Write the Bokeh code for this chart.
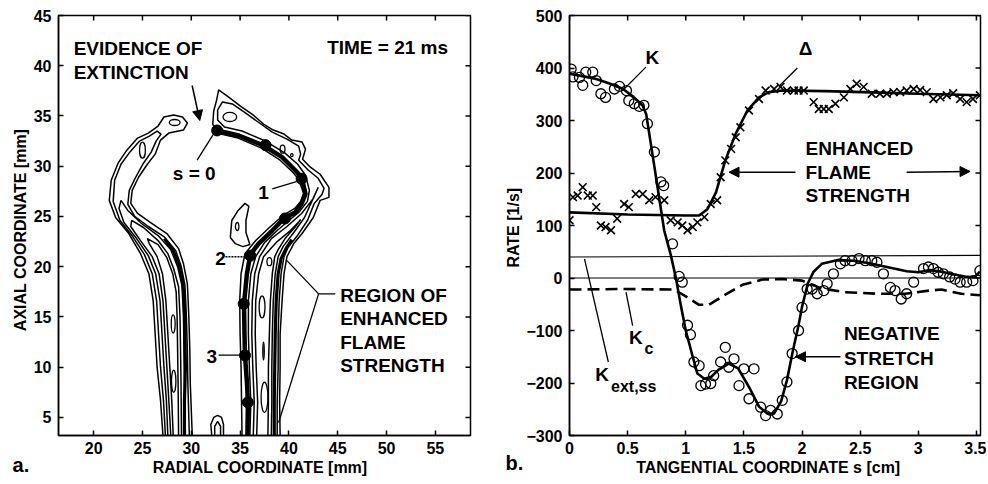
from bokeh.plotting import figure
from bokeh.models import (Range1d, FixedTicker, Arrow, NormalHead,
                          ColumnDataSource, CustomJSTickFormatter)
from bokeh.layouts import row
from bokeh.core.properties import value
from bokeh.embed import file_html
from bokeh.resources import INLINE

FONT = "Liberation Sans"

# ---------------- Panel a data (contours of the flame, mm) ----------------
L1_x = [27.1, 26.85, 26.5, 26.3, 26.1, 25.66, 24.8, 23.6, 22.25, 21.6, 21.8, 22.5, 23.4, 24.5, 25.6, 26.6, 27.2, 28.2, 29.1, 29.6, 29.2, 27.7, 26.85, 26.3, 25.5, 24.6, 23.95, 23.8, 24.5, 25.8, 27.5, 28.7, 29.2, 29.6, 29.75, 29.85, 29.9, 30.1]
L1_y = [3.2, 6.7, 10.0, 13.3, 16.6, 19.3, 21.3, 23.3, 24.9, 26.6, 28.6, 30.3, 31.6, 32.8, 33.3, 34.0, 34.9, 35.1, 34.9, 34.3, 33.6, 33.3, 32.6, 31.2, 30.2, 28.9, 27.6, 26.3, 25.3, 24.4, 23.3, 21.8, 20.3, 18.3, 15.0, 11.7, 8.35, 3.2]
L2_x = [27.35, 27.15, 26.85, 26.65, 26.45, 26.0, 25.2, 24.0, 22.7, 22.0, 22.15, 22.8, 23.7, 24.7, 25.7, 26.5, 26.9, 26.4, 25.9, 25.1, 24.3, 23.65, 23.5, 24.2, 25.6, 27.2, 28.4, 28.95, 29.35, 29.5, 29.6, 29.65, 29.8]
L2_y = [3.2, 6.7, 10.0, 13.3, 16.6, 19.3, 21.2, 23.0, 24.6, 26.5, 28.6, 30.2, 31.4, 32.5, 33.0, 33.5, 33.2, 32.5, 31.4, 30.3, 28.9, 27.6, 26.2, 25.0, 24.0, 23.0, 21.6, 20.1, 18.2, 15.0, 11.7, 8.35, 3.2]
L3_x = [27.6, 27.45, 27.2, 27.0, 26.8, 26.35, 25.6, 24.4, 23.1, 22.6, 22.8, 23.5, 24.9, 26.6, 27.9, 28.6, 29.05, 29.2, 29.25, 29.3, 29.4]
L3_y = [3.2, 6.7, 10.0, 13.3, 16.6, 19.3, 21.1, 22.8, 24.4, 25.8, 26.6, 25.6, 24.3, 23.1, 21.7, 20.0, 18.1, 15.0, 11.7, 8.35, 3.2]
L4_x = [27.9, 27.7, 27.5, 27.3, 27.1, 26.7, 26.0, 24.8, 23.8, 23.9, 25.1, 26.6, 27.6, 28.2, 28.7, 28.85, 28.9, 28.95, 29.0]
L4_y = [3.2, 6.7, 10.0, 13.3, 16.6, 19.3, 21.0, 22.6, 24.0, 24.6, 23.9, 22.6, 21.3, 19.8, 18.0, 15.0, 11.7, 8.35, 3.2]
L5_x = [28.15, 28.0, 27.8, 27.6, 27.4, 27.05, 26.5, 25.7, 25.5, 26.6, 27.5, 28.1, 28.45, 28.55, 28.6, 28.65, 28.7]
L5_y = [3.2, 6.7, 10.0, 13.3, 16.6, 19.3, 21.0, 22.3, 22.8, 22.2, 20.9, 19.3, 17.5, 15.0, 11.7, 8.35, 3.2]

R1_x = [35.2, 35.15, 35.1, 35.0, 34.96, 35.1, 35.5, 36.6, 38.0, 39.4, 40.6, 41.2, 41.5, 41.0, 40.4, 39.1, 37.2, 34.8, 32.6, 32.2, 32.3, 32.6, 32.8, 33.8, 35.0, 36.4, 37.4, 38.4, 39.5, 40.3, 41.35, 41.7, 41.4, 42.2, 43.2, 44.1, 44.1, 43.2, 42.5, 41.35, 40.5, 39.8, 39.5, 39.3, 39.1, 39.1, 39.05, 39.1]
R1_y = [3.2, 6.5, 10.0, 13.3, 16.6, 19.3, 21.3, 22.6, 23.9, 25.1, 25.8, 26.5, 27.3, 28.7, 29.4, 30.6, 31.8, 32.8, 33.3, 34.2, 35.5, 36.6, 37.6, 36.9, 36.0, 35.05, 34.2, 33.6, 33.2, 32.6, 32.4, 31.7, 30.7, 29.9, 29.2, 27.9, 26.9, 26.6, 24.9, 23.3, 22.3, 21.0, 19.3, 16.6, 13.3, 10.0, 6.5, 3.2]
R2_x = [36.0, 36.1, 35.95, 35.85, 35.85, 36.1, 36.6, 37.5, 38.8, 40.0, 41.0, 41.9, 42.1, 41.7, 40.9, 39.6, 37.6, 35.2, 33.4, 32.7, 32.7, 33.2, 34.2, 35.4, 36.7, 38.3, 39.8, 41.0, 41.2, 41.0, 42.0, 43.0, 43.6, 43.4, 42.6, 41.9, 40.8, 39.9, 39.5, 39.2, 39.0, 38.9, 38.9, 38.8, 38.8]
R2_y = [3.2, 6.5, 10.0, 13.3, 16.6, 19.3, 21.0, 22.4, 23.6, 24.6, 25.4, 26.5, 27.6, 29.1, 30.2, 31.3, 32.5, 33.5, 33.9, 34.6, 35.6, 36.4, 36.2, 35.4, 34.5, 33.4, 32.7, 32.0, 31.2, 30.6, 29.6, 28.8, 27.8, 27.2, 26.3, 24.6, 23.0, 21.9, 21.0, 19.3, 16.6, 13.3, 10.0, 6.5, 3.2]
R3_x = [36.35, 36.45, 36.3, 36.2, 36.25, 36.5, 37.0, 38.2, 39.8, 41.3, 42.5, 43.0, 42.3, 41.6, 40.5, 39.4, 38.9, 38.6, 38.4, 38.3, 38.25, 38.25, 38.2]
R3_y = [3.2, 6.5, 10.0, 13.3, 16.6, 19.3, 21.0, 22.8, 24.0, 25.3, 26.8, 27.9, 26.4, 24.9, 23.4, 22.0, 21.0, 19.3, 16.6, 13.3, 10.0, 6.5, 3.2]
R4_x = [36.7, 36.8, 36.65, 36.55, 36.6, 36.9, 37.4, 38.8, 40.1, 41.0, 41.2, 40.6, 39.6, 38.9, 38.55, 38.3, 38.1, 38.0, 37.9, 37.9, 37.85]
R4_y = [3.2, 6.5, 10.0, 13.3, 16.6, 19.3, 21.0, 22.5, 23.55, 24.45, 24.7, 23.9, 22.8, 21.7, 21.0, 19.3, 16.6, 13.3, 10.0, 6.5, 3.2]
B1_x = [34.0, 34.15, 34.8, 35.5, 35.9, 35.6, 35.6, 36.0, 35.3, 34.5, 34.0]
B1_y = [22.9, 24.6, 25.6, 26.3, 26.0, 24.6, 23.4, 22.2, 22.0, 22.3, 22.9]
U1_x = [32.1, 32.0, 32.3, 32.7, 33.1, 33.3, 33.3]
U1_y = [3.2, 4.3, 5.0, 5.2, 5.0, 4.3, 3.2]
U2_x = [32.4, 32.4, 32.7, 33.0, 33.0]
U2_y = [3.2, 4.1, 4.6, 4.1, 3.2]

# dark bands (thick contour lines)
TL_x = [29.3, 29.3, 29.4, 29.35, 29.3, 29.1, 28.7, 28.15, 27.25]
TL_y = [3.2, 6.5, 10.0, 13.3, 16.6, 18.6, 20.3, 21.6, 22.8]
T2_x = [38.5, 38.5, 38.55, 38.6, 38.7, 38.9, 39.2, 39.7, 40.3]
T2_y = [3.2, 6.5, 10.0, 13.3, 16.6, 19.3, 20.8, 21.8, 22.7]
# flame-front path (s coordinate) and its marked points
T1_x = [35.75, 35.8, 35.7, 35.5, 35.45, 35.4, 35.7, 36.05, 36.9, 38.3, 39.6, 40.65, 41.3, 41.7, 41.3, 40.65, 39.3, 37.4, 34.86, 32.65]
T1_y = [3.2, 6.5, 8.5, 11.2, 13.3, 16.3, 19.3, 21.2, 22.3, 23.6, 24.9, 25.4, 26.26, 27.25, 28.9, 29.6, 30.9, 32.06, 33.06, 33.55]
dots_x = [32.65, 37.6, 41.3, 39.6, 36.05, 35.37, 35.5, 35.8]
dots_y = [33.56, 32.1, 28.75, 24.8, 21.1, 16.3, 11.17, 6.5]

# closed islands (centre, full width, full height)
isl_x = [28.3, 25.0, 28.15, 28.2, 33.95, 39.35, 40.3, 37.25, 38.0, 37.5, 34.7, 37.4]
isl_y = [34.35, 31.6, 14.3, 8.6, 34.9, 31.7, 31.1, 16.0, 20.5, 7.0, 24.0, 11.6]
isl_w = [1.1, 0.6, 0.4, 0.45, 1.4, 0.5, 0.25, 0.6, 0.5, 0.7, 0.35, 0.15]
isl_h = [0.6, 1.6, 1.8, 2.2, 0.9, 0.8, 0.3, 2.2, 0.8, 3.0, 0.8, 1.8]

a_xrange = (16.4, 58.6)
a_yrange = (3.2, 45.0)
a_xticks = [20, 25, 30, 35, 40, 45, 50, 55]
a_yticks = [5, 10, 15, 20, 25, 30, 35, 40, 45]

# ---------------- Panel b data (rates, 1/s) ----------------
K_s = [0.014, 0.03, 0.086, 0.114, 0.14, 0.2, 0.23, 0.27, 0.31, 0.386, 0.43, 0.49, 0.51, 0.557, 0.6, 0.64, 0.67, 0.73, 0.786, 0.81, 0.886, 0.943, 0.97, 1.015, 1.04, 1.07, 1.115, 1.13, 1.17, 1.215, 1.24, 1.3, 1.34, 1.37, 1.415, 1.458, 1.5, 1.544, 1.587, 1.644, 1.687, 1.73, 1.787, 1.83, 1.87, 1.915, 1.97, 2.0, 2.044, 2.087, 2.13, 2.187, 2.216, 2.27, 2.33, 2.37, 2.43, 2.49, 2.544, 2.6, 2.644, 2.7, 2.76, 2.8, 2.853, 2.9, 2.96, 3.045, 3.087, 3.13, 3.17, 3.216, 3.27, 3.316, 3.36, 3.416, 3.47, 3.53]
K_v = [398, 383, 382, 367, 392, 392, 376, 351, 344, 360, 365, 357, 338, 332, 327, 329, 294, 240, 183, 176, 65, 3, -8, -90, -108, -160, -167, -205, -202, -201, -186, -160, -132, -170, -154, -205, -173, -230, -173, -246, -262, -252, -259, -233, -198, -144, -100, -56, -21, -21, -30, -24, -11, 8, 27, 33, 33, 37, 33, 33, 30, 8, -18, -24, -40, -30, -8, 18, 21, 18, 11, 8, 2, -2, -8, -8, -5, 14]
Kfit_s = [0.0, 0.1, 0.23, 0.35, 0.46, 0.55, 0.63, 0.66, 0.70, 0.74, 0.78, 0.815, 0.87, 0.915, 0.96, 1.0, 1.06, 1.1, 1.16, 1.22, 1.28, 1.37, 1.45, 1.55, 1.63, 1.7, 1.76, 1.82, 1.87, 1.92, 1.97, 2.0, 2.05, 2.1, 2.17, 2.3, 2.45, 2.6, 2.75, 2.9, 3.0, 3.1, 3.2, 3.3, 3.4, 3.48, 3.53]
Kfit_v = [389, 385, 379, 370, 360, 345, 328, 312, 255, 198, 140, 90, 45, 0, -55, -100, -150, -182, -192, -188, -175, -163, -172, -210, -245, -258, -258, -235, -195, -140, -90, -55, -10, 12, 27, 34, 33, 27, 20, 13, 11, 15, 12, 7, 3, 1, 12]
D_s = [0.0, 0.03, 0.07, 0.114, 0.157, 0.2, 0.23, 0.27, 0.31, 0.357, 0.41, 0.47, 0.51, 0.57, 0.63, 0.686, 0.74, 0.815, 0.87, 0.93, 0.97, 1.015, 1.06, 1.1, 1.16, 1.215, 1.27, 1.3, 1.34, 1.39, 1.43, 1.47, 1.544, 1.63, 1.687, 1.76, 1.815, 1.87, 1.93, 1.97, 2.015, 2.1, 2.144, 2.187, 2.23, 2.287, 2.36, 2.416, 2.47, 2.53, 2.6, 2.67, 2.73, 2.787, 2.844, 2.9, 2.96, 3.016, 3.073, 3.13, 3.19, 3.245, 3.3, 3.36, 3.416, 3.47, 3.53]
D_v = [110, 154, 157, 173, 157, 157, 135, 100, 97, 91, 113, 141, 135, 160, 160, 148, 154, 148, 110, 106, 100, 91, 97, 106, 116, 141, 148, 192, 224, 246, 268, 287, 319, 341, 357, 360, 364, 357, 357, 357, 357, 335, 322, 322, 322, 332, 344, 360, 370, 364, 351, 351, 351, 354, 354, 357, 360, 358, 354, 341, 344, 348, 352, 341, 335, 341, 348]
Dfit_s = [0.0, 0.5, 1.0, 1.115, 1.186, 1.26, 1.34, 1.43, 1.53, 1.63, 1.715, 1.83, 2.2, 2.52, 3.0, 3.53]
Dfit_v = [125, 121, 119, 119, 131, 163, 224, 275, 319, 344, 354, 357, 356, 354, 351, 348]
Kc_s = [0.0, 0.45, 0.9, 1.0, 1.115, 1.2, 1.315, 1.487, 1.66, 1.83, 2.0, 2.17, 2.37, 2.66, 2.89, 3.09, 3.2, 3.37, 3.53]
Kc_v = [-22, -21, -22, -35, -51, -51, -35, -13, -3, -2, -5, -20, -27, -30, -30, -24, -22, -30, -33]
K_ext_ss = [40, 43]
ZERO = [0, 0]

b_xrange = (0.0, 3.535)
b_yrange = (-300, 500)
b_xticks = [0, 0.5, 1, 1.5, 2, 2.5, 3, 3.5]
b_yticks = [-300, -200, -100, 0, 100, 200, 300, 400, 500]

# ---------------- annotations ----------------
a_text_x = [17.95, 17.95, 56.3, 30.3, 37.4, 33.0, 32.1, 45.25, 45.25, 45.25, 45.25]
a_text_y = [41.7, 39.3, 41.8, 29.3, 27.4, 20.8, 11.1, 17.14, 14.82, 12.5, 10.17]
a_text = ["EVIDENCE  OF", "EXTINCTION", "TIME = 21 ms", "s = 0", "1", "2", "3",
          "REGION  OF", "ENHANCED", "FLAME", "STRENGTH"]
a_text_align = ["left", "left", "right", "center", "center", "center", "center",
                "left", "left", "left", "left"]
a_seg = dict(x0=[30.6, 38.3, 32.8, 44.75, 43.04, 43.04],
             y0=[30.6, 27.75, 11.2, 17.3, 17.3, 17.3],
             x1=[32.4, 41.2, 35.3, 43.04, 39.8, 38.95],
             y1=[33.4, 28.6, 11.2, 17.3, 20.6, 4.5])

b_text_x = [0.712, 2.03, 2.03, 2.03, 2.03, 2.36, 2.36, 2.36]
b_text_y = [420.6, 436.5, 246, 201.6, 157, -106, -154, -198.5]
b_text = ["K", "\u0394", "ENHANCED", "FLAME", "STRENGTH", "NEGATIVE", "STRETCH", "REGION"]
b_text_align = ["center", "center", "left", "left", "left", "left", "left", "left"]
b_seg = dict(x0=[0.657, 1.96, 0.486, 0.129], y0=[401.6, 400, -27, 36.5],
             x1=[0.457, 1.8, 0.543, 0.334], y1=[357, 364.8, -90.5, -160])

TICK_PX = 5


def style(p, xt, yt, xlab, ylab, xr, yr, fw, fh, y_std):
    p.xgrid.visible = False
    p.ygrid.visible = False
    p.outline_line_color = "black"
    p.outline_line_width = 1.5
    p.outline_line_alpha = 1.0
    p.background_fill_color = "white"
    p.border_fill_color = "white"
    p.xaxis[0].ticker = FixedTicker(ticks=xt)
    p.yaxis[0].ticker = FixedTicker(ticks=yt)
    p.xaxis.axis_label = xlab
    p.yaxis.axis_label = ylab
    for ax in (p.xaxis[0], p.yaxis[0]):
        ax.major_tick_in = TICK_PX
        ax.major_tick_out = 0
        ax.minor_tick_in = 0
        ax.minor_tick_out = 0
        ax.axis_line_width = 1.5
        ax.major_tick_line_width = 1.5
        ax.major_label_text_font = FONT
        ax.major_label_text_font_style = "bold"
        ax.major_label_text_font_size = "16px"
        ax.major_label_text_color = "black"
        ax.axis_label_text_font = FONT
        ax.axis_label_text_font_style = "bold"
        ax.axis_label_text_font_size = "16px"
        ax.axis_label_text_color = "black"
    p.xaxis.major_label_standoff = 6
    p.xaxis.axis_label_standoff = 2
    p.yaxis.major_label_standoff = 7
    p.yaxis.axis_label_standoff = y_std
    # inward ticks on the top and right frame edges
    dy = TICK_PX * (yr[1] - yr[0]) / fh
    dx = TICK_PX * (xr[1] - xr[0]) / fw
    p.segment(x0=xt, y0=[yr[1]] * len(xt), x1=xt, y1=[yr[1] - dy] * len(xt),
              line_color="black", line_width=1.5)
    p.segment(x0=[xr[1]] * len(yt), y0=yt, x1=[xr[1] - dx] * len(yt), y1=yt,
              line_color="black", line_width=1.5)


def texts(p, xs, ys, ts, aligns, size, level="glyph"):
    src = ColumnDataSource(dict(x=xs, y=ys, t=ts, a=aligns))
    p.text(x="x", y="y", text="t", text_align="a", source=src, text_font=value(FONT),
           text_font_style="bold", text_font_size=size, text_baseline="middle",
           text_color="black", level=level)


# ================= Panel a =================
pa = figure(width=490, height=480, x_range=Range1d(*a_xrange), y_range=Range1d(*a_yrange),
            output_backend="svg", toolbar_location=None,
            min_border_left=58, min_border_right=20, min_border_top=15, min_border_bottom=45)
style(pa, a_xticks, a_yticks, "RADIAL  COORDINATE  [mm]", "AXIAL  COORDINATE  [mm]",
      a_xrange, a_yrange, 412, 420, 2)

pa.multi_line(xs=[L1_x, L2_x, L3_x, L4_x, L5_x, R1_x, R2_x, R3_x, R4_x, B1_x, U1_x, U2_x],
              ys=[L1_y, L2_y, L3_y, L4_y, L5_y, R1_y, R2_y, R3_y, R4_y, B1_y, U1_y, U2_y],
              line_color="black", line_width=1.5)
pa.ellipse(x=isl_x, y=isl_y, width=isl_w, height=isl_h, fill_color=None,
           line_color="black", line_width=1.3)
pa.multi_line(xs=[TL_x, T2_x], ys=[TL_y, T2_y], line_color="black", line_width=3.2)
pa.line(T1_x, T1_y, line_color="black", line_width=4.5, line_join="round")
pa.scatter(dots_x, dots_y, size=11, color="black")

pa.segment(x0="x0", y0="y0", x1="x1", y1="y1", source=ColumnDataSource(a_seg),
           line_color="black", line_width=1.3)
pa.segment(x0=[33.5], y0=[21.0], x1=[35.9], y1=[21.0], line_color="black",
           line_width=1.5, line_dash="2 1")
pa.add_layout(Arrow(x_start=30.09, y_start=38.03, x_end=30.87, y_end=34.55,
                    line_width=1.5, end=NormalHead(size=10, fill_color="black", line_width=1)))
texts(pa, a_text_x, a_text_y, a_text, a_text_align, "19px")
texts(pa, [11.7], [0.3], ["a."], ["left"], "20px", level="annotation")

# ================= Panel b =================
pb = figure(width=496, height=480, x_range=Range1d(*b_xrange), y_range=Range1d(*b_yrange),
            output_backend="svg", toolbar_location=None,
            min_border_left=79, min_border_right=6, min_border_top=15, min_border_bottom=45)
style(pb, b_xticks, b_yticks, "TANGENTIAL  COORDINATE  s  [cm]", "RATE  [1/s]",
      b_xrange, b_yrange, 411, 420, 1)
pb.xaxis[0].formatter = CustomJSTickFormatter(code="return tick.toString();")

pb.line([b_xrange[0], b_xrange[1]], K_ext_ss, line_color="black", line_width=1.2)
pb.line([b_xrange[0], b_xrange[1]], ZERO, line_color="black", line_width=1.2)
pb.line(Kc_s, Kc_v, line_color="black", line_width=2.6, line_dash="12 6")
pb.line(Kfit_s, Kfit_v, line_color="black", line_width=2.6)
pb.line(Dfit_s, Dfit_v, line_color="black", line_width=2.6)
pb.scatter(K_s, K_v, marker="circle", size=10, fill_color=None, line_color="black", line_width=1.3)
pb.scatter(D_s, D_v, marker="x", size=11, line_color="black", line_width=1.6)

pb.segment(x0="x0", y0="y0", x1="x1", y1="y1", source=ColumnDataSource(b_seg),
           line_color="black", line_width=1.3)
for xs0, ys0, xs1, ys1 in [(1.944, 201.6, 1.372, 201.6), (2.9, 201.6, 3.445, 203),
                           (2.33, -150, 1.944, -150)]:
    pb.add_layout(Arrow(x_start=xs0, y_start=ys0, x_end=xs1, y_end=ys1, line_width=1.5,
                        end=NormalHead(size=10, fill_color="black", line_width=1)))
texts(pb, b_text_x, b_text_y, b_text, b_text_align, "19px")
texts(pb, [0.57, 0.28], [-114, -184], ["K", "K"], ["center", "center"], "19px")
texts(pb, [0.645, 0.357], [-134, -206], ["c", "ext,ss"], ["left", "left"], "16px")
texts(pb, [-0.55], [-353], ["b."], ["left"], "20px", level="annotation")

layout = row(pa, pb)
open("out.html", "w").write(file_html(layout, INLINE))
